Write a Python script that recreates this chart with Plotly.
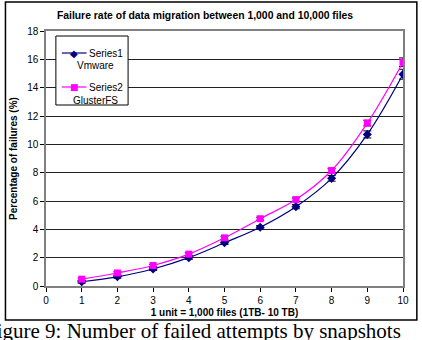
import plotly.graph_objects as go

units = [1, 2, 3, 4, 5, 6, 7, 8, 9, 10]
vmware = [0.3, 0.65, 1.2, 2.0, 3.05, 4.15, 5.6, 7.6, 10.7, 14.95]
gluster = [0.48, 0.92, 1.45, 2.25, 3.4, 4.75, 6.1, 8.15, 11.5, 15.8]
vmware_err = [0.1, 0.1, 0.1, 0.12, 0.12, 0.12, 0.15, 0.2, 0.25, 0.35]
gluster_err = [0.08, 0.08, 0.08, 0.1, 0.1, 0.1, 0.12, 0.15, 0.2, 0.3]
x_ticks = list(range(0, 11))
y_ticks = list(range(0, 19, 2))

series_names = ["Series1", "Series2"]
series_labels = ["Vmware", "GlusterFS"]
series_colors = ["#000080", "#FF00FF"]
series_symbols = ["diamond", "square"]
legend_glyphs = ["\u25C6", "\u25A0"]

title = "Failure rate of data migration between 1,000 and 10,000 files"
caption = "Figure 9: Number of failed attempts by snapshots"

# plot area in pixels: left 42, right 403, top 31, bottom 286
L, R, T, B = 42, 403, 31, 286
W, H = R - L, B - T


def px(x):
    return (x - L) / W


def py(y):
    return (B - y) / H


fig = go.Figure()
for vals, errs, name, label, color, sym in zip(
        [vmware, gluster], [vmware_err, gluster_err], series_names, series_labels,
        series_colors, series_symbols):
    fig.add_trace(go.Scatter(
        x=units, y=vals, name=name + " " + label, mode="lines+markers",
        line=dict(color=color, width=1.2, shape="spline"),
        marker=dict(symbol=sym, size=7, color=color),
        error_y=dict(type="data", array=errs, color="#000000", thickness=1, width=4),
        showlegend=False,
    ))

fig.update_layout(
    width=422, height=340,
    margin=dict(l=L, r=422 - R, t=T, b=340 - B),
    paper_bgcolor="white", plot_bgcolor="white",
    font=dict(family="Arial, Liberation Sans, sans-serif", size=10, color="black"),
    title=dict(text="<b>" + title + "</b>", x=(205) / 422, xanchor="center",
               y=1 - 15 / 340, yanchor="middle", font=dict(size=10.4)),
    xaxis=dict(range=[0, 10], tickvals=x_ticks, ticktext=[str(v) for v in x_ticks],
               ticks="outside", ticklen=4, tickcolor="black",
               showline=True, linecolor="#808080", linewidth=1.5, mirror=True,
               showgrid=False, zeroline=False,
               title=dict(text="<b>1 unit = 1,000 files (1TB- 10 TB)</b>", standoff=4,
                          font=dict(size=10))),
    yaxis=dict(range=[0, 18], tickvals=y_ticks, ticktext=[str(v) for v in y_ticks],
               ticks="outside", ticklen=4, tickcolor="black",
               showline=True, linecolor="#808080", linewidth=1.5, mirror=True,
               showgrid=True, gridcolor="#222222", gridwidth=1, zeroline=False,
               title=dict(text="<b>Percentage of failures (%)</b>", standoff=8,
                          font=dict(size=10))),
)

# custom legend box
fig.add_shape(type="rect", xref="paper", yref="paper",
              x0=px(52), x1=px(125), y0=py(105), y1=py(36),
              line=dict(color="black", width=1), fillcolor="white", layer="above")
for i, (name, label, color, glyph) in enumerate(
        zip(series_names, series_labels, series_colors, legend_glyphs)):
    ly = 53 + i * 34
    fig.add_shape(type="line", xref="paper", yref="paper",
                  x0=px(58), x1=px(83), y0=py(ly), y1=py(ly),
                  line=dict(color=color, width=1.2), layer="above")
    fig.add_annotation(text=glyph, xref="paper", yref="paper", x=px(70.5), y=py(ly),
                       xanchor="center", yanchor="middle", showarrow=False,
                       font=dict(color=color, size=10 if i == 0 else 9,
                                 family="DejaVu Sans"))
    fig.add_annotation(text=name, xref="paper", yref="paper", x=px(83), y=py(ly),
                       xanchor="left", yanchor="middle", showarrow=False,
                       font=dict(size=10))
    fig.add_annotation(text=label, xref="paper", yref="paper", x=px(92), y=py(ly + 13),
                       xanchor="center", yanchor="middle", showarrow=False,
                       font=dict(size=10))

# outer chart frame
fig.add_shape(type="rect", xref="paper", yref="paper",
              x0=px(1), x1=px(417), y0=py(320), y1=py(2),
              line=dict(color="black", width=1.5), fillcolor="rgba(0,0,0,0)")

fig.add_annotation(text=caption, xref="paper", yref="paper",
                   x=1.0, y=py(331), xanchor="right", yanchor="middle",
                   showarrow=False,
                   font=dict(family="Liberation Serif, Times New Roman, serif", size=21, color="black"))

fig.write_html("out.html")
